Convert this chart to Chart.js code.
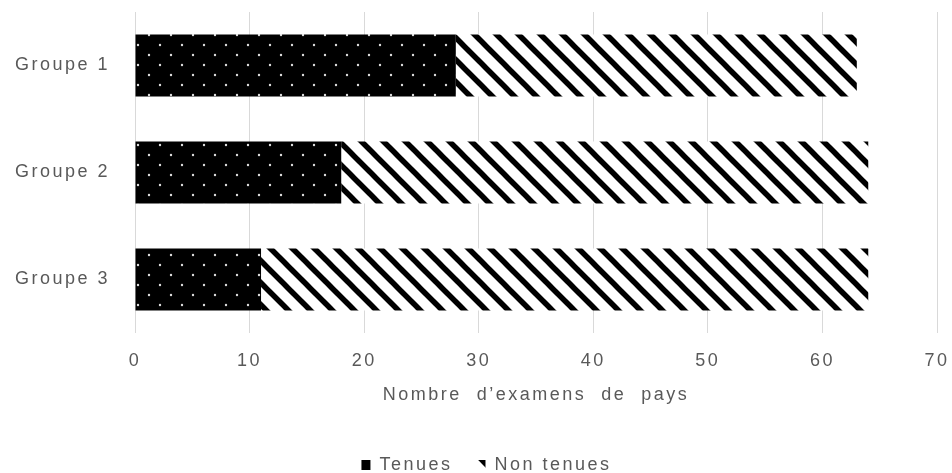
<!DOCTYPE html>
<html>
<head>
<meta charset="utf-8">
<script src="https://cdn.jsdelivr.net/npm/chart.js@4/dist/chart.umd.min.js"></script>
<style>
  html, body { margin: 0; padding: 0; background: #fff; }
  #wrap { width: 952px; height: 473px; }
</style>
</head>
<body>
<div id="wrap"><canvas id="chart"></canvas></div>
<script>
// données
const groupes = ['Groupe 1', 'Groupe 2', 'Groupe 3'];
const tenues = [28, 18, 11];
const nonTenues = [35, 46, 53];
const serieNoms = ['Tenues', 'Non tenues'];
const titreAxe = 'Nombre  d\u2019examens  de  pays';

const gris = '#595959';

// motif noir à points blancs
function motifPoints() {
    const c = document.createElement('canvas');
    c.width = 22; c.height = 20;
    const g = c.getContext('2d');
    g.fillStyle = '#000';
    g.fillRect(0, 0, 22, 20);
    g.fillStyle = '#ddd';
    [[6, 5], [17, 15]].forEach(([x, y]) => {
        g.beginPath();
        g.arc(x, y, 1.2, 0, Math.PI * 2);
        g.fill();
    });
    return g.createPattern(c, 'repeat');
}

// motif à rayures diagonales
function motifRayures() {
    const c = document.createElement('canvas');
    c.width = 22; c.height = 22;
    const g = c.getContext('2d');
    g.fillStyle = '#fff';
    g.fillRect(0, 0, 22, 22);
    g.strokeStyle = '#000';
    g.lineWidth = 5.5;
    [-22, 0, 22].forEach(dx => {
        g.beginPath();
        g.moveTo(dx - 2, -2);
        g.lineTo(dx + 24, 24);
        g.stroke();
    });
    return g.createPattern(c, 'repeat');
}

// espacement des lettres comme sur l'original, légende un peu décalée à droite
const reglages = {
    id: 'reglages',
    beforeUpdate: ch => { ch.ctx.letterSpacing = '2.5px'; },
    afterLayout: ch => { ch.legend.left += 36; },
    beforeDraw: ch => { ch.ctx.letterSpacing = '2.5px'; }
};

const police = { family: '"Liberation Sans", Arial, sans-serif', size: 18 };

new Chart(document.getElementById('chart'), {
    type: 'bar',
    plugins: [reglages],
    data: {
        labels: groupes,
        datasets: [
            { label: serieNoms[0], data: tenues, backgroundColor: motifPoints(), borderWidth: 0 },
            { label: serieNoms[1], data: nonTenues, backgroundColor: motifRayures(), borderWidth: 0 }
        ]
    },
    options: {
        indexAxis: 'y',
        responsive: true,
        maintainAspectRatio: false,
        animation: false,
        datasets: { bar: { categoryPercentage: 1, barPercentage: 0.58 } },
        layout: { padding: { top: 12, right: 15, left: 0, bottom: -11 } },
        plugins: {
            tooltip: { enabled: false },
            legend: {
                position: 'bottom',
                labels: { color: gris, font: police, boxWidth: 9, boxHeight: 10, padding: 24 }
            }
        },
        scales: {
            x: {
                stacked: true,
                min: 0, max: 70,
                ticks: { stepSize: 10, color: gris, font: police, padding: 17 },
                grid: { color: '#d9d9d9', drawTicks: false },
                border: { display: false },
                title: { display: true, text: titreAxe, color: gris, font: police, padding: { top: 4, bottom: 26 } },
                afterFit: s => { s.height = 99; s.paddingLeft = 0; s.paddingRight = 0; }
            },
            y: {
                stacked: true,
                ticks: { color: gris, font: police, padding: 25 },
                grid: { display: false, drawTicks: false },
                border: { display: false },
                afterFit: s => { s.width = 135; s.paddingTop = 0; s.paddingBottom = 0; }
            }
        }
    }
});
</script>
</body>
</html>
